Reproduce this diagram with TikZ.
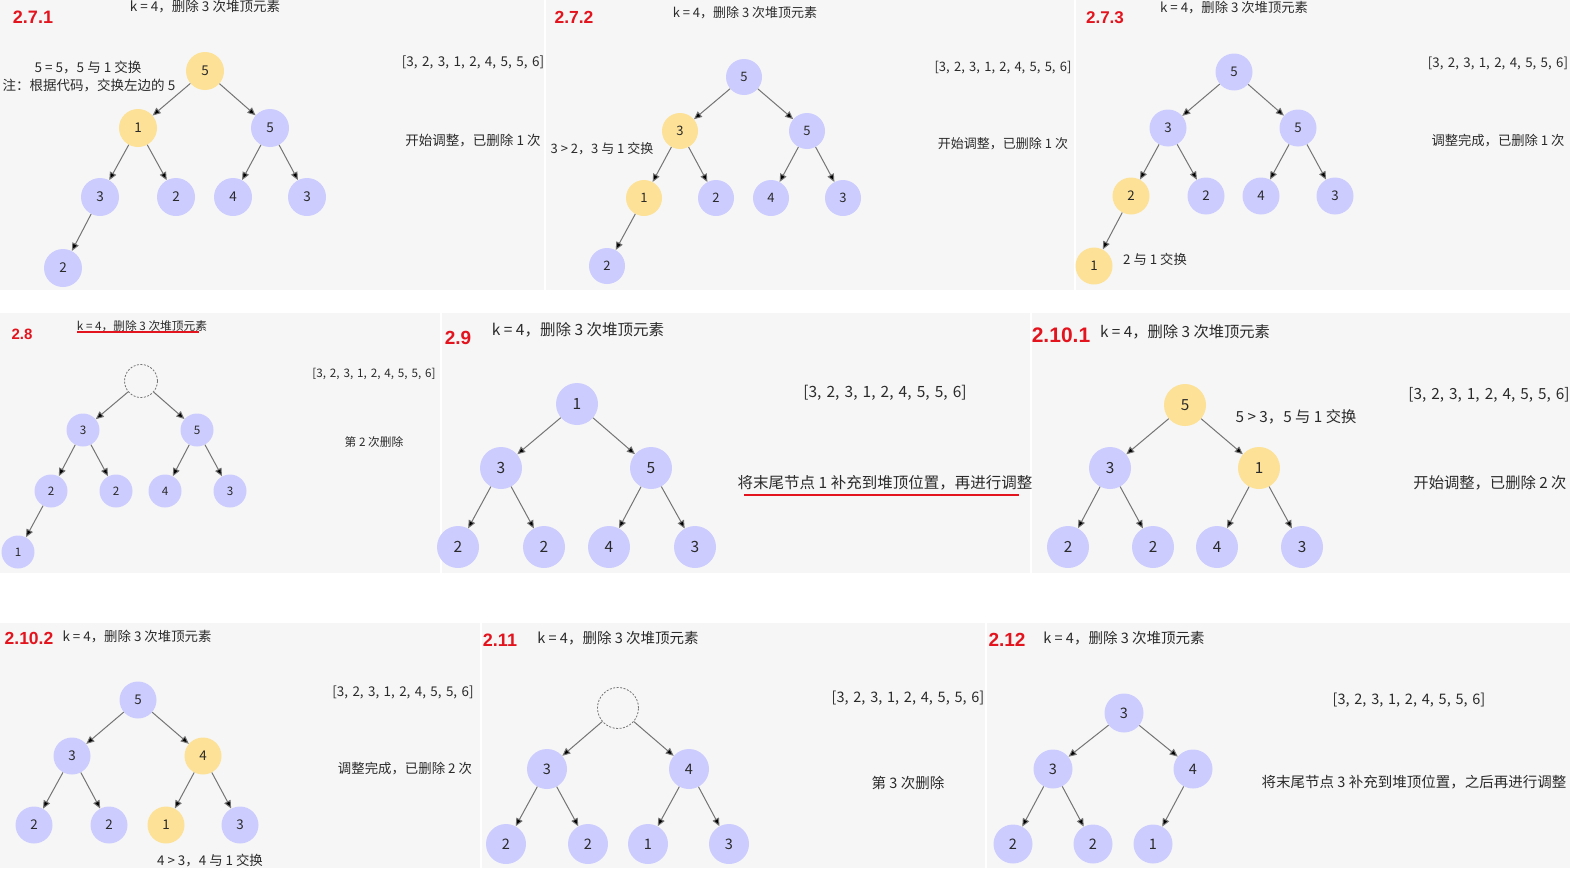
\documentclass[tikz,border=0pt]{standalone}
\usepackage{fontspec}
\setmainfont{Noto Sans CJK SC}
\newfontfamily\labfont{Liberation Sans}
\usetikzlibrary{arrows.meta}

\definecolor{panel}{HTML}{F6F6F6}
\definecolor{lav}{HTML}{CCCCFF}
\definecolor{hotc}{RGB}{252,225,150}
\definecolor{ink}{HTML}{2A2A2A}
\definecolor{arrc}{HTML}{747474}
\definecolor{redc}{HTML}{E3141E}

\newcommand\fsz[1]{\fontsize{#1}{#1}\selectfont}
\newcommand\heaparr{[3,\kern.33em 2,\kern.33em 3,\kern.33em 1,\kern.33em 2,\kern.33em 4,\kern.33em 5,\kern.33em 5,\kern.33em 6]}

\tikzset{
	hn/.style={circle, fill=lav, minimum size=#1, inner sep=0pt, text=ink},
	hot/.style={fill=hotc},
	gone/.style={circle, draw=arrc, dash pattern=on 2pt off 1.5pt, line width=0.8pt, minimum size=#1, inner sep=0pt},
	lbl/.style={text=redc, font=\labfont\bfseries\fsz{#1}, inner sep=0pt},
	txt/.style={text=ink, inner sep=0pt},
	arr/.style={draw=arrc, line width=1pt, -{Triangle[length=8pt,width=7pt]}},
	uline/.style={draw=redc, line width=1.5pt}
}

\begin{document}
\begin{tikzpicture}[x=1pt, y=-1pt]
	\useasboundingbox (0,0) rectangle (1570,870);
	% panels
	\fill[panel] (0,0) rectangle (544,290);
	\fill[panel] (546,0) rectangle (1074,290);
	\fill[panel] (1076,0) rectangle (1570,290);
	\fill[panel] (0,313) rectangle (440,573);
	\fill[panel] (442,313) rectangle (1030,573);
	\fill[panel] (1032,313) rectangle (1570,573);
	\fill[panel] (0,623) rectangle (480,868);
	\fill[panel] (482,623) rectangle (985,868);
	\fill[panel] (987,623) rectangle (1570,868);

	% 2.7.1
	\begin{scope}[font=\fsz{13.5}]
		\node[lbl=18] (la) at (33,17) {2.7.1};
		\node[txt] (ta) at (205,7) {k = 4，删除 3 次堆顶元素};
		\node[txt] (na1) at (88,67) {5 = 5，5 与 1 交换};
		\node[txt] (na2) at (89,85) {注：根据代码，交换左边的 5};
		\node[txt] (sa1) at (473,62) {\heaparr};
		\node[txt] (sa2) at (473,141) {开始调整，已删除 1 次};
		\node[hn=38,hot] (a1) at (205,71) {5};
		\node[hn=38,hot] (a2) at (138,128) {1};
		\node[hn=38] (a3) at (270,128) {5};
		\node[hn=38] (a4) at (100,197) {3};
		\node[hn=38] (a5) at (176,197) {2};
		\node[hn=38] (a6) at (233,197) {4};
		\node[hn=38] (a7) at (307,197) {3};
		\node[hn=38] (a8) at (63,268) {2};
		\draw[arr] (a1) edge (a2) edge (a3) (a2) edge (a4) edge (a5)
			(a3) edge (a6) edge (a7) (a4) edge (a8);
	\end{scope}

	% 2.7.2
	\begin{scope}[font=\fsz{13}]
		\node[lbl=17.5] (lb) at (574,17) {2.7.2};
		\node[txt] (tb) at (745,13) {k = 4，删除 3 次堆顶元素};
		\node[txt] (nb1) at (602,149) {3 > 2，3 与 1 交换};
		\node[txt] (sb1) at (1003,68) {\heaparr};
		\node[txt] (sb2) at (1003,144) {开始调整，已删除 1 次};
		\node[hn=36] (b1) at (744,77) {5};
		\node[hn=36,hot] (b2) at (680,131) {3};
		\node[hn=36] (b3) at (807,131) {5};
		\node[hn=36,hot] (b4) at (644,198) {1};
		\node[hn=36] (b5) at (716,198) {2};
		\node[hn=36] (b6) at (771,198) {4};
		\node[hn=36] (b7) at (843,198) {3};
		\node[hn=36] (b8) at (607,266) {2};
		\draw[arr] (b1) edge (b2) edge (b3) (b2) edge (b4) edge (b5)
			(b3) edge (b6) edge (b7) (b4) edge (b8);
	\end{scope}

	% 2.7.3
	\begin{scope}[font=\fsz{13.3}]
		\node[lbl=17] (lc) at (1105,18) {2.7.3};
		\node[txt] (tc) at (1234,8) {k = 4，删除 3 次堆顶元素};
		\node[txt] (sc1) at (1498,63) {\heaparr};
		\node[txt] (sc2) at (1498,141) {调整完成，已删除 1 次};
		\node[txt] (nc1) at (1155,259) {2 与 1 交换};
		\node[hn=37] (c1) at (1234,72) {5};
		\node[hn=37] (c2) at (1168,128) {3};
		\node[hn=37] (c3) at (1298,128) {5};
		\node[hn=37,hot] (c4) at (1131,196) {2};
		\node[hn=37] (c5) at (1206,196) {2};
		\node[hn=37] (c6) at (1261,196) {4};
		\node[hn=37] (c7) at (1335,196) {3};
		\node[hn=37,hot] (c8) at (1094,266) {1};
		\draw[arr] (c1) edge (c2) edge (c3) (c2) edge (c4) edge (c5)
			(c3) edge (c6) edge (c7) (c4) edge (c8);
	\end{scope}

	% 2.8
	\begin{scope}[font=\fsz{11.7}]
		\node[lbl=15] (ld) at (22,334) {2.8};
		\node[txt] (td) at (142,326) {k = 4，删除 3 次堆顶元素};
		\draw[uline] (77,332) -- (199,332);
		\node[txt] (sd1) at (374,374) {\heaparr};
		\node[txt] (sd2) at (374,442) {第 2 次删除};
		\node[gone=33] (d1) at (141,381) {};
		\node[hn=33] (d2) at (83,430) {3};
		\node[hn=33] (d3) at (197,430) {5};
		\node[hn=33] (d4) at (51,491) {2};
		\node[hn=33] (d5) at (116,491) {2};
		\node[hn=33] (d6) at (165,491) {4};
		\node[hn=33] (d7) at (230,491) {3};
		\node[hn=33] (d8) at (18,552) {1};
		\draw[arr] (d1) edge (d2) edge (d3) (d2) edge (d4) edge (d5)
			(d3) edge (d6) edge (d7) (d4) edge (d8);
	\end{scope}

	% 2.9
	\begin{scope}[font=\fsz{15.5}]
		\node[lbl=19] (le) at (458,338) {2.9};
		\node[txt] (te) at (578,330) {k = 4，删除 3 次堆顶元素};
		\node[txt] (se1) at (885,393) {\heaparr};
		\node[txt] (se2) at (885,483) {将末尾节点 1 补充到堆顶位置，再进行调整};
		\draw[uline] (744,495) -- (1019,495);
		\node[hn=42] (e1) at (577,404) {1};
		\node[hn=42] (e2) at (501,468) {3};
		\node[hn=42] (e3) at (651,468) {5};
		\node[hn=42] (e4) at (458,547) {2};
		\node[hn=42] (e5) at (544,547) {2};
		\node[hn=42] (e6) at (609,547) {4};
		\node[hn=42] (e7) at (695,547) {3};
		\draw[arr] (e1) edge (e2) edge (e3) (e2) edge (e4) edge (e5)
			(e3) edge (e6) edge (e7);
	\end{scope}

	% 2.10.1
	\begin{scope}[font=\fsz{15.3}]
		\node[lbl=21] (lf) at (1061,335) {2.10.1};
		\node[txt] (tf) at (1185,332) {k = 4，删除 3 次堆顶元素};
		\node[txt] (nf1) at (1296,417) {5 > 3，5 与 1 交换};
		\node[txt] (sf1) at (1489,395) {\heaparr};
		\node[txt] (sf2) at (1490,483) {开始调整，已删除 2 次};
		\node[hn=42,hot] (f1) at (1185,405) {5};
		\node[hn=42] (f2) at (1110,468) {3};
		\node[hn=42,hot] (f3) at (1259,468) {1};
		\node[hn=42] (f4) at (1068,547) {2};
		\node[hn=42] (f5) at (1153,547) {2};
		\node[hn=42] (f6) at (1217,547) {4};
		\node[hn=42] (f7) at (1302,547) {3};
		\draw[arr] (f1) edge (f2) edge (f3) (f2) edge (f4) edge (f5)
			(f3) edge (f6) edge (f7);
	\end{scope}

	% 2.10.2
	\begin{scope}[font=\fsz{13.4}]
		\node[lbl=17.5] (lg) at (29,638) {2.10.2};
		\node[txt] (tg) at (137,637) {k = 4，删除 3 次堆顶元素};
		\node[txt] (sg1) at (403,692) {\heaparr};
		\node[txt] (sg2) at (405,769) {调整完成，已删除 2 次};
		\node[txt] (ng1) at (210,861) {4 > 3，4 与 1 交换};
		\node[hn=37] (g1) at (138,700) {5};
		\node[hn=37] (g2) at (72,756) {3};
		\node[hn=37,hot] (g3) at (203,756) {4};
		\node[hn=37] (g4) at (34,825) {2};
		\node[hn=37] (g5) at (109,825) {2};
		\node[hn=37,hot] (g6) at (166,825) {1};
		\node[hn=37] (g7) at (240,825) {3};
		\draw[arr] (g1) edge (g2) edge (g3) (g2) edge (g4) edge (g5)
			(g3) edge (g6) edge (g7);
	\end{scope}

	% 2.11
	\begin{scope}[font=\fsz{14.5}]
		\node[lbl=18] (lh) at (500,640) {2.11};
		\node[txt] (th) at (618,638) {k = 4，删除 3 次堆顶元素};
		\node[txt] (sh1) at (908,698) {\heaparr};
		\node[txt] (sh2) at (908,783) {第 3 次删除};
		\node[gone=41] (h1) at (618,708) {};
		\node[hn=40] (h2) at (547,769) {3};
		\node[hn=40] (h3) at (689,769) {4};
		\node[hn=40] (h4) at (506,844) {2};
		\node[hn=40] (h5) at (588,844) {2};
		\node[hn=40] (h6) at (648,844) {1};
		\node[hn=40] (h7) at (729,844) {3};
		\draw[arr] (h1) edge (h2) edge (h3) (h2) edge (h4) edge (h5)
			(h3) edge (h6) edge (h7);
	\end{scope}

	% 2.12
	\begin{scope}[font=\fsz{14.5}]
		\node[lbl=19] (li) at (1007,640) {2.12};
		\node[txt] (ti) at (1124,638) {k = 4，删除 3 次堆顶元素};
		\node[txt] (si1) at (1409,700) {\heaparr};
		\node[txt] (si2) at (1414,782) {将末尾节点 3 补充到堆顶位置，之后再进行调整};
		\node[hn=39] (i1) at (1124,713) {3};
		\node[hn=39] (i2) at (1053,769) {3};
		\node[hn=39] (i3) at (1193,769) {4};
		\node[hn=39] (i4) at (1013,844) {2};
		\node[hn=39] (i5) at (1093,844) {2};
		\node[hn=39] (i6) at (1153,844) {1};
		\draw[arr] (i1) edge (i2) edge (i3) (i2) edge (i4) edge (i5)
			(i3) edge (i6);
	\end{scope}
\end{tikzpicture}
\end{document}
